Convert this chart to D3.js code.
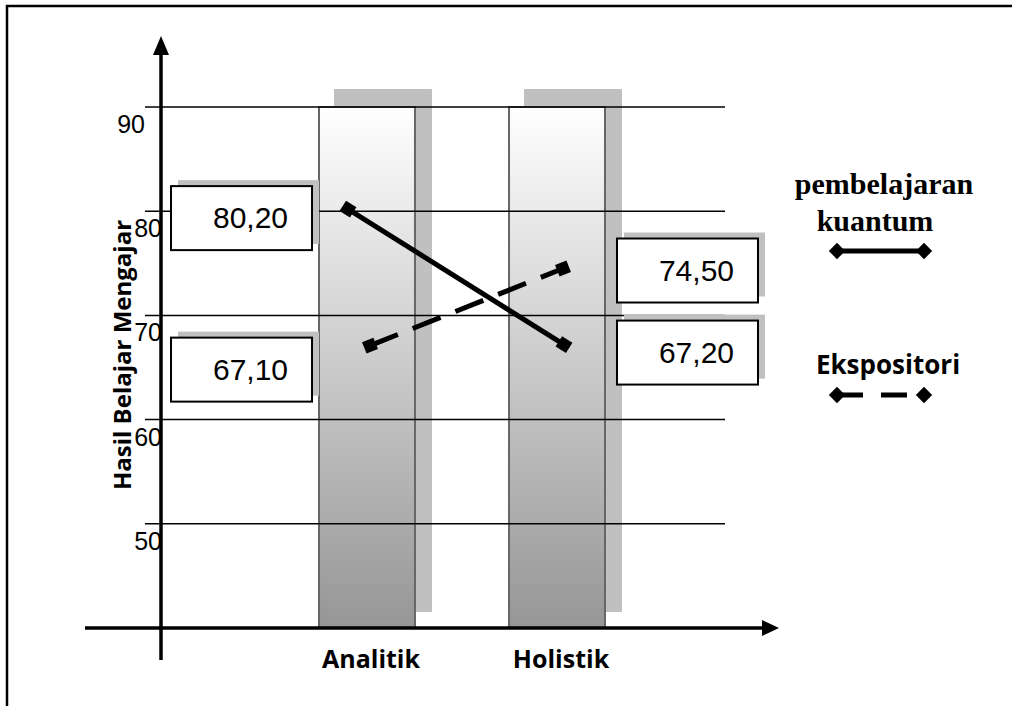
<!DOCTYPE html>
<html>
<head>
<meta charset="utf-8">
<script src="https://cdn.jsdelivr.net/npm/d3@7"></script>
<style>
  body { margin: 0; background: #fff; overflow: hidden; }
  svg { display: block; }
</style>
</head>
<body>
<div id="chart"></div>
<script>
// data
const categories = ["Analitik", "Holistik"];
const kuantum = [80.20, 67.20];
const ekspositori = [67.10, 74.50];
const barTop = [90, 90];
const yTicks = [50, 60, 70, 80, 90];
const seriesNames = ["pembelajaran kuantum", "Ekspositori"];

(function chart(){

  const width = 1012, height = 706;

  const svg = d3.select("#chart")
    .append("svg")
    .attr("width", width)
    .attr("height", height);

  const defs = svg.append("defs");
  const grad = defs.append("linearGradient")
    .attr("id", "barGrad")
    .attr("x1", 0).attr("y1", 0).attr("x2", 0).attr("y2", 1);
  grad.append("stop").attr("offset", "0%").attr("stop-color", "#ffffff");
  grad.append("stop").attr("offset", "100%").attr("stop-color", "#969696");

  // frame: only top and left edges show in the picture
  svg.append("path")
    .attr("d", `M7,${height + 10} V6 H${width + 10}`)
    .attr("fill", "none").attr("stroke", "#000").attr("stroke-width", 2.5);

  const y = d3.scaleLinear().domain([40, 90]).range([628, 107]);
  const x = d3.scaleBand().domain(categories).range([224, 700])
    .paddingInner(0.495).paddingOuter(0.5);

  const axisX = 161;

  // bars: shadow first, then gradient bar
  const bars = svg.append("g");
  bars.selectAll("rect.shadow")
    .data(categories)
    .join("rect")
    .attr("class", "shadow")
    .attr("x", d => x(d) + 15)
    .attr("y", (d, i) => y(barTop[i]) - 18)
    .attr("width", x.bandwidth() + 2)
    .attr("height", (d, i) => y(40) - y(barTop[i]) + 2)
    .attr("fill", "#c0c0c0");

  bars.selectAll("rect.bar")
    .data(categories)
    .join("rect")
    .attr("class", "bar")
    .attr("x", d => x(d))
    .attr("y", (d, i) => y(barTop[i]))
    .attr("width", x.bandwidth())
    .attr("height", (d, i) => y(40) - y(barTop[i]))
    .attr("fill", "url(#barGrad)")
    .attr("stroke", "#666")
    .attr("stroke-width", 2);

  // gridlines
  svg.append("g")
    .selectAll("line")
    .data(yTicks)
    .join("line")
    .attr("x1", 145).attr("x2", 725)
    .attr("y1", d => y(d)).attr("y2", d => y(d))
    .attr("stroke", "#000").attr("stroke-width", 1.5);

  // tick labels (sit below their line)
  svg.append("g")
    .attr("font-family", "'Liberation Sans', Arial, sans-serif")
    .attr("font-size", 25)
    .attr("text-anchor", "end")
    .selectAll("text")
    .data(yTicks)
    .join("text")
    .attr("x", d => d === 90 ? 145 : 162)
    .attr("y", d => y(d) + 26)
    .text(d => d);

  // y-axis title
  svg.append("text")
    .attr("transform", "translate(131,355) rotate(-90)")
    .attr("font-family", "'Open Sans', sans-serif")
    .attr("font-weight", "bold")
    .attr("font-size", 24)
    .attr("text-anchor", "middle")
    .text("Hasil Belajar Mengajar");

  // axes with arrows
  svg.append("line")
    .attr("x1", axisX).attr("x2", axisX)
    .attr("y1", 660).attr("y2", 52)
    .attr("stroke", "#000").attr("stroke-width", 3.5);
  svg.append("path")
    .attr("d", `M${axisX},36 L${axisX - 8},55 L${axisX + 8},55 Z`)
    .attr("fill", "#000");

  svg.append("line")
    .attr("x1", 85).attr("x2", 765)
    .attr("y1", y(40)).attr("y2", y(40))
    .attr("stroke", "#000").attr("stroke-width", 3.5);
  svg.append("path")
    .attr("d", `M779,${y(40)} L762,${y(40) - 8} L762,${y(40) + 8} Z`)
    .attr("fill", "#000");

  // category labels
  svg.append("g")
    .attr("font-family", "'Open Sans', sans-serif")
    .attr("font-weight", "bold")
    .attr("font-size", 25)
    .attr("text-anchor", "middle")
    .selectAll("text")
    .data(categories)
    .join("text")
    .attr("x", d => x(d) + x.bandwidth() / 2 + 4)
    .attr("y", 668)
    .text(d => d);

  // series lines
  const series = [
    { name: seriesNames[0], values: kuantum, dash: null, shift: [-19, 7], nudge: [9, 8] },
    { name: seriesNames[1], values: ekspositori, dash: "30,16", shift: [3, 6], nudge: [24, 2] }
  ];

  const px = (s, i) => x(categories[i]) + x.bandwidth() / 2 + s.shift[i];

  // value boxes
  const fmt = v => d3.format(".2f")(v).replace(".", ",");
  const boxW = 141, boxH = 64;
  const boxes = svg.append("g");
  series.forEach(s => {
    s.values.forEach((v, i) => {
      const bx = i === 0 ? x(categories[i]) - 148 : x(categories[i]) + x.bandwidth() + 12;
      const cy = y(v) + s.nudge[i];
      boxes.append("rect")
        .attr("x", bx + 7).attr("y", cy - boxH / 2 - 6)
        .attr("width", boxW).attr("height", boxH)
        .attr("fill", "#c0c0c0");
      boxes.append("rect")
        .attr("x", bx).attr("y", cy - boxH / 2)
        .attr("width", boxW).attr("height", boxH)
        .attr("fill", "#fff").attr("stroke", "#000").attr("stroke-width", 2);
      boxes.append("text")
        .attr("x", bx + boxW / 2 + 9).attr("y", cy + 10)
        .attr("text-anchor", "middle")
        .attr("font-family", "'Liberation Sans', Arial, sans-serif")
        .attr("font-size", 30)
        .text(fmt(v));
    });
  });

  const lineG = svg.append("g");
  series.forEach(s => {
    const pts = s.values.map((v, i) => [px(s, i), y(v)]);
    lineG.append("path")
      .attr("d", d3.line()(pts))
      .attr("fill", "none")
      .attr("stroke", "#000")
      .attr("stroke-width", 5)
      .attr("stroke-dasharray", s.dash);
    const ang = Math.atan2(pts[1][1] - pts[0][1], pts[1][0] - pts[0][0]) * 180 / Math.PI;
    lineG.selectAll(null)
      .data(pts)
      .join("path")
      .attr("transform", d => `translate(${d[0]},${d[1]}) rotate(${ang})`)
      .attr("d", d3.symbol(d3.symbolSquare, 150)())
      .attr("fill", "#000");
  });

  // legend
  const legend = svg.append("g");
  legend.append("text")
    .attr("x", 884).attr("y", 194)
    .attr("text-anchor", "middle")
    .attr("font-family", "'Liberation Serif', 'Times New Roman', serif")
    .attr("font-weight", "bold")
    .attr("font-size", 30)
    .selectAll("tspan")
    .data(["pembelajaran", "kuantum"])
    .join("tspan")
    .attr("x", (d, i) => i ? 875 : 884)
    .attr("dy", (d, i) => i ? 37 : 0)
    .text(d => d);

  legend.append("text")
    .attr("x", 888).attr("y", 374)
    .attr("text-anchor", "middle")
    .attr("font-family", "'Open Sans', sans-serif")
    .attr("font-weight", "bold")
    .attr("font-size", 26)
    .text(seriesNames[1]);

  const diamond = d3.symbol(d3.symbolDiamond2, 170)();
  [[251, null], [395, "26,18"]].forEach(([ly, dash]) => {
    legend.append("line")
      .attr("x1", 837).attr("x2", dash ? 912 : 924)
      .attr("y1", ly).attr("y2", ly)
      .attr("stroke", "#000").attr("stroke-width", 5)
      .attr("stroke-dasharray", dash);
    legend.selectAll(null)
      .data([837, 924])
      .join("path")
      .attr("transform", d => `translate(${d},${ly})`)
      .attr("d", diamond)
      .attr("fill", "#000");
  });

})();
</script>
</body>
</html>
